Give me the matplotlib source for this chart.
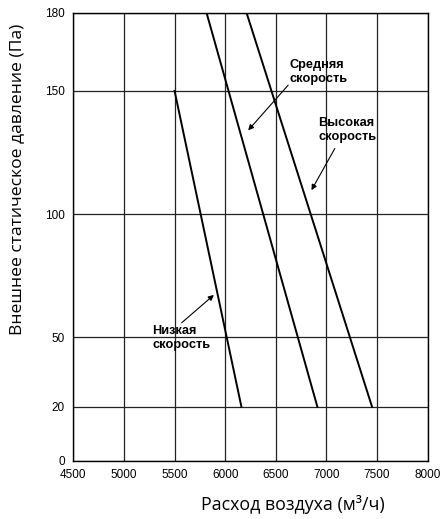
import numpy as np
import matplotlib
matplotlib.use("Agg")
import matplotlib.pyplot as plt

# pressure ticks (Pa) and where they sit on the drawing (px from bottom)
y_ticks = [0, 20, 50, 100, 150, 180]
y_pos = [0, 54.3, 123.7, 247.0, 370.3, 448.7]

x_ticks = [4500, 5000, 5500, 6000, 6500, 7000, 7500, 8000]

# fan curves: airflow (m3/h) vs external static pressure (Pa)
low_p = [150, 20]
low_q = [5500, 6160]

mid_p = [180, 20]
mid_q = [5815, 6910]

high_p = [180, 20]
high_q = [6210, 7450]


def fwd(v):
    return np.interp(v, y_ticks, y_pos)


def inv(v):
    return np.interp(v, y_pos, y_ticks)


fig = plt.figure(figsize=(4.43, 5.19), dpi=100)
ax = fig.add_axes([0.1655, 0.1118, 0.8, 0.8641])
ax.set_yscale("function", functions=(fwd, inv))

for q, p in [(low_q, low_p), (mid_q, mid_p), (high_q, high_p)]:
    ax.plot(q, p, color="black", lw=1.4, zorder=3)

ax.set_xlim(4500, 8000)
ax.set_ylim(0, 180)
ax.set_xticks(x_ticks)
ax.set_yticks(y_ticks)
ax.set_yticklabels([str(t) for t in y_ticks])
ax.minorticks_off()
ax.grid(True, color="#222222", lw=0.9)
ax.tick_params(length=0, labelsize=8.5, pad=6)
for lbl in ax.get_xticklabels() + ax.get_yticklabels():
    lbl.set_fontfamily("Liberation Sans")
for s in ax.spines.values():
    s.set_linewidth(1.0)

ax.set_xlabel("Расход воздуха (м³/ч)", fontfamily="Open Sans", fontsize=12.8)
ax.set_ylabel("Внешнее статическое давление (Па)", fontfamily="Open Sans", fontsize=12.6)
ax.xaxis.set_label_coords(0.62, -0.076)
ax.yaxis.set_label_coords(-0.136, 0.627)

# speed labels with arrows
arrow = dict(arrowstyle="-|>", color="black", lw=0.8, mutation_scale=8, shrinkA=0, shrinkB=0)
txt = dict(fontfamily="Liberation Sans", fontweight="bold", fontsize=9.2, ha="left", va="center",
           linespacing=1.2)
ax.annotate("", xy=(6227, 134), xytext=(6622, 152.2), arrowprops=arrow)
ax.text(6638, 157.3, "Средняя\nскорость", **txt)
ax.annotate("", xy=(6852, 109.7), xytext=(7082, 126.6), arrowprops=arrow)
ax.text(6918, 134, "Высокая\nскорость", **txt)
ax.annotate("", xy=(5888, 67.2), xytext=(5570, 55.9), arrowprops=arrow)
ax.text(5280, 49.7, "Низкая\nскорость", **txt)

fig.savefig("out.png", dpi=100)
